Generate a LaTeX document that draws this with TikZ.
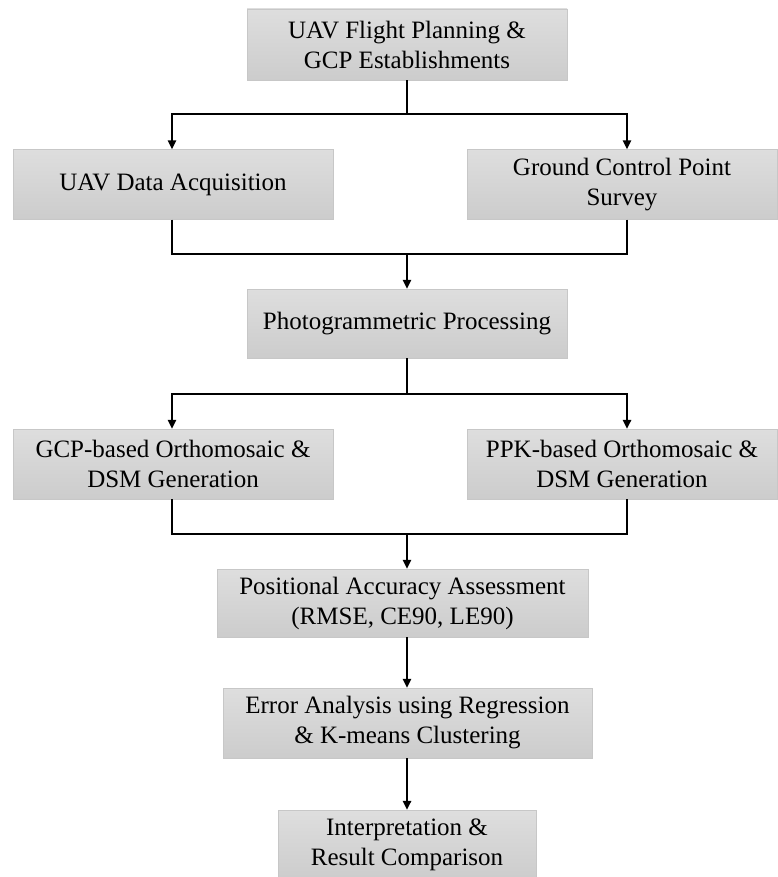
\documentclass[tikz,border=0pt]{standalone}
\usepackage{fontspec}
\setmainfont{Liberation Serif}
\usetikzlibrary{arrows.meta}

\tikzset{
  stepbox/.style={draw=black!22, top color=black!13, bottom color=black!20,
    align=center, inner sep=0pt, minimum height=70pt,
    font=\fontsize{25}{30}\selectfont},
  flow/.style={line width=1.5pt, -{Triangle[length=9pt,width=8.5pt]}},
  joint/.style={line width=1.5pt},
}

\begin{document}
\begin{tikzpicture}[x=1pt,y=-1pt]
  \useasboundingbox (0,0) rectangle (778,877);

  % boxes
  \node[stepbox, minimum width=320pt, minimum height=71pt] (plan) at (407,44.5)
    {UAV Flight Planning \&\\GCP Establishments};
  \node[stepbox, minimum width=320pt] (uav) at (173,184.5) {UAV Data Acquisition};
  \node[stepbox, minimum width=310pt] (gcp) at (622,184.5) {Ground Control Point\\Survey};
  \node[stepbox, minimum width=320pt, minimum height=69pt] (photo) at (407,323.5)
    {Photogrammetric Processing};
  \node[stepbox, minimum width=320pt] (gcpmap) at (173,464)
    {GCP-based Orthomosaic \&\\DSM Generation};
  \node[stepbox, minimum width=310pt] (ppkmap) at (622,464)
    {PPK-based Orthomosaic \&\\DSM Generation};
  \node[stepbox, minimum width=371pt, minimum height=68pt] (acc) at (402.5,603)
    {Positional Accuracy Assessment\\(RMSE, CE90, LE90)};
  \node[stepbox, minimum width=369pt] (err) at (407.5,723)
    {Error Analysis using Regression\\\& K-means Clustering};
  \node[stepbox, minimum width=258pt] (res) at (407,845)
    {Interpretation \&\\Result Comparison};

  % split and merge points
  \coordinate (s1) at (407,114);
  \coordinate (s1l) at (172,114);
  \coordinate (s1r) at (627,114);
  \coordinate (m1) at (407,254);
  \coordinate (s2) at (407,394);
  \coordinate (s2l) at (172,394);
  \coordinate (s2r) at (627,394);
  \coordinate (m2) at (407,534);

  % connectors
  \draw[joint] (plan.south) -- (s1);
  \draw[flow] (s1) -- (s1l) -- (s1l |- uav.north);
  \draw[flow] (s1) -- (s1r) -- (s1r |- gcp.north);
  \draw[joint] (s1l |- uav.south) |- (m1);
  \draw[joint] (s1r |- gcp.south) |- (m1);
  \draw[flow] (m1) -- (photo.north);
  \draw[joint] (photo.south) -- (s2);
  \draw[flow] (s2) -- (s2l) -- (s2l |- gcpmap.north);
  \draw[flow] (s2) -- (s2r) -- (s2r |- ppkmap.north);
  \draw[joint] (s2l |- gcpmap.south) |- (m2);
  \draw[joint] (s2r |- ppkmap.south) |- (m2);
  \draw[flow] (m2) -- (m2 |- acc.north);
  \draw[flow] (m2 |- acc.south) -- (m2 |- err.north);
  \draw[flow] (m2 |- err.south) -- (m2 |- res.north);
\end{tikzpicture}
\end{document}
